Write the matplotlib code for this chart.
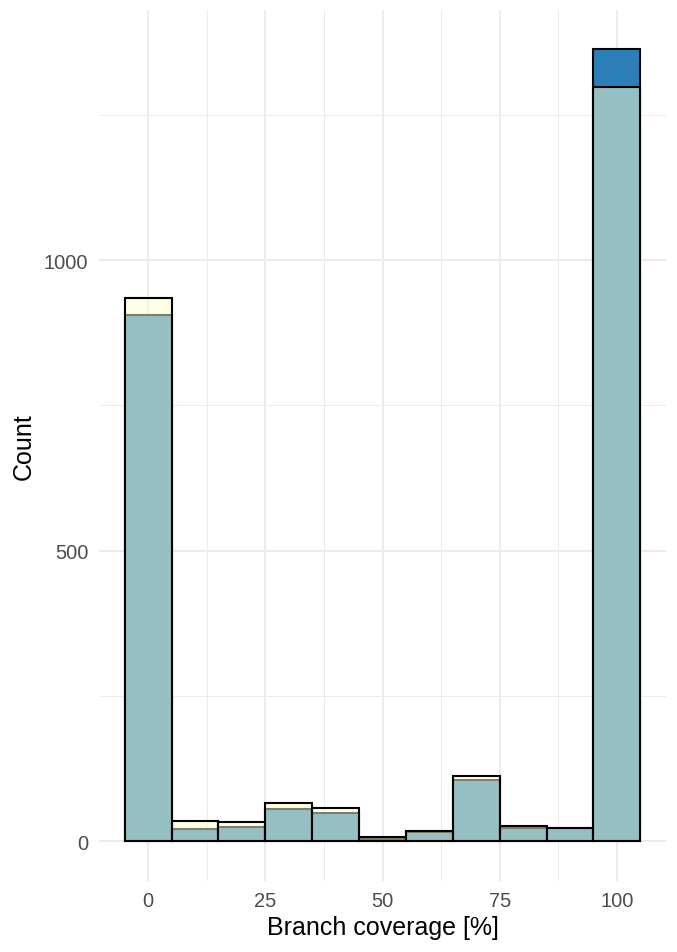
import matplotlib
matplotlib.use("Agg")
import matplotlib.pyplot as plt
from matplotlib.ticker import MultipleLocator

plt.rcParams["font.family"] = ["Liberation Sans", "DejaVu Sans"]

# bin centres (width 10) and counts of the two overlaid histograms
bin_centers = [0, 10, 20, 30, 40, 50, 60, 70, 80, 90, 100]
counts_blue = [905, 20, 24, 55, 48, 4, 15, 105, 22, 23, 1363]
counts_yellow = [935, 34, 32, 65, 57, 7, 18, 112, 26, 23, 1298]

BLUE = "#2c7fb8"
YELLOW = "#ffffcc"

fig = plt.figure(figsize=(6.77, 9.53), dpi=100)
ax = fig.add_axes([0.146, 0.075, 0.838, 0.9135])

ax.bar(bin_centers, counts_blue, width=10, color=BLUE,
       edgecolor="black", linewidth=1.5, zorder=2)
ax.bar(bin_centers, counts_yellow, width=10, color=(1.0, 1.0, 0.8, 0.5),
       edgecolor="black", linewidth=1.5, zorder=3)

ax.set_xlim(-10.5, 110.5)
ax.set_ylim(-68, 1431)
ax.xaxis.set_major_locator(MultipleLocator(25))
ax.yaxis.set_major_locator(MultipleLocator(500))
ax.xaxis.set_minor_locator(MultipleLocator(12.5))
ax.yaxis.set_minor_locator(MultipleLocator(250))

ax.grid(which="major", color="#ebebeb", linewidth=1.4, zorder=0)
ax.grid(which="minor", color="#ebebeb", linewidth=0.7, zorder=0)
ax.set_axisbelow(True)
for s in ax.spines.values():
    s.set_visible(False)
ax.tick_params(which="both", length=0)
ax.tick_params(axis="both", labelsize=14.5, colors="#4d4d4d", pad=7.5)

ax.set_xlabel("Branch coverage [%]", fontsize=18, labelpad=4)
ax.set_ylabel("Count", fontsize=18, labelpad=6)

fig.savefig("out.png", dpi=100, facecolor="white")
